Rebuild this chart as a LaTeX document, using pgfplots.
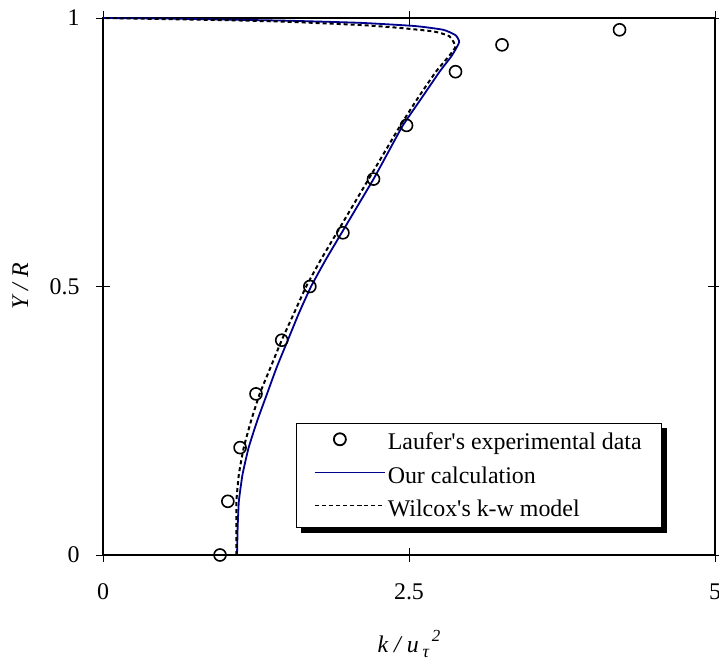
\documentclass[border=0pt]{standalone}
\usepackage{pgfplots}
\pgfplotsset{compat=1.18}
\usepackage{fontspec}
\setmainfont{Liberation Serif}
\usetikzlibrary{backgrounds}
\definecolor{navyline}{RGB}{0,0,140}

\begin{document}
\begin{tikzpicture}
\begin{axis}[
    scale only axis, width=612bp, height=537bp,
    xmin=0, xmax=5, ymin=0, ymax=1,
    xtick={0,2.5,5}, xticklabels={0,2.5,5},
    ytick={0,0.5,1}, yticklabels={0,0.5,1},
    tick align=center, major tick length=14bp,
    tick style={black, line width=0.8bp},
    axis line style={black, line width=2bp},
    font=\fontsize{24}{28}\selectfont,
    tick label style={font=\fontsize{24}{28}\selectfont},
    /pgf/number format/assume math mode=true,
    xticklabel style={yshift=-18bp},
    yticklabel style={xshift=-13bp},
    xlabel={\itshape k / u\,\raisebox{-0.5ex}{\fontsize{18}{18}\selectfont τ}\raisebox{0.95ex}{\fontsize{17}{17}\selectfont\,2}},
    ylabel={\itshape Y / R},
    label style={font=\fontsize{24}{28}\selectfont},
    xlabel style={at={(rel axis cs:0.5,-0.181)}, anchor=base},
    ylabel style={at={(rel axis cs:-0.135,0.5)}, anchor=center},
    clip=false,
    legend style={at={(rel axis cs:0.315,0.246)}, anchor=north west,
        name=leg, draw=black, fill=white,
        font=\fontsize{24}{28}\selectfont, row sep=11bp,
        inner xsep=18bp, inner ysep=8bp},
    legend cell align=left,
    legend image code/.code={\draw[mark repeat=2,mark phase=2,yshift=0.3em,#1,line width=1.8bp] plot coordinates {(0bp,0bp) (25bp,0bp) (70bp,0bp)};},
]
\coordinate (sw) at (rel axis cs:0,0);
\coordinate (ne) at (rel axis cs:1,1);

\addplot[only marks, mark=o, mark size=6bp, black, line width=1.6bp, mark options={fill=white}]
coordinates {
(0.956,0) (1.02,0.1) (1.12,0.2) (1.25,0.3) (1.46,0.4) (1.69,0.5)
(1.96,0.6) (2.21,0.7) (2.48,0.8) (2.88,0.9) (3.26,0.95) (4.22,0.978)
};
\addlegendentry{Laufer\textquotesingle s experimental data}

\addplot[navyline, line width=1.8bp, smooth, tension=0.3, mark=none]
coordinates {
(1.095,0) (1.10,0.05) (1.11,0.1) (1.14,0.15) (1.19,0.2) (1.26,0.25)
(1.34,0.3) (1.42,0.35) (1.51,0.4) (1.60,0.45) (1.70,0.5) (1.82,0.55)
(1.95,0.6) (2.08,0.65) (2.21,0.7) (2.33,0.75) (2.45,0.8) (2.60,0.85)
(2.75,0.9) (2.85,0.93) (2.91,0.955) (2.88,0.968) (2.78,0.978) (2.55,0.985)
(2.1,0.991) (1.5,0.995) (1,0.997) (0.5,0.999) (0,1)
};
\addlegendentry{Our calculation}

\addplot[black, line width=2bp, dash pattern=on 4bp off 3bp, smooth, tension=0.3, mark=none]
coordinates {
(1.09,0) (1.09,0.05) (1.09,0.1) (1.11,0.15) (1.15,0.2) (1.21,0.25)
(1.28,0.3) (1.37,0.35) (1.46,0.4) (1.56,0.45) (1.66,0.5) (1.78,0.55)
(1.91,0.6) (2.04,0.65) (2.17,0.7) (2.30,0.75) (2.43,0.8) (2.57,0.85)
(2.72,0.9) (2.83,0.93) (2.88,0.947) (2.83,0.966) (2.70,0.975) (2.4,0.982)
(2.1,0.987) (1.5,0.993) (1,0.996) (0.5,0.998) (0,1)
};
\addlegendentry{Wilcox\textquotesingle s k-w model}
\end{axis}
% legend shadow
\begin{pgfonlayer}{background}
\fill[black] ([shift={(5bp,-5bp)}]leg.south west) rectangle ([shift={(5bp,-5bp)}]leg.north east);
\end{pgfonlayer}
\pgfresetboundingbox
\path[use as bounding box] ([shift={(-103bp,-105bp)}]sw) rectangle ([shift={(4bp,18bp)}]ne);
\end{tikzpicture}
\end{document}
